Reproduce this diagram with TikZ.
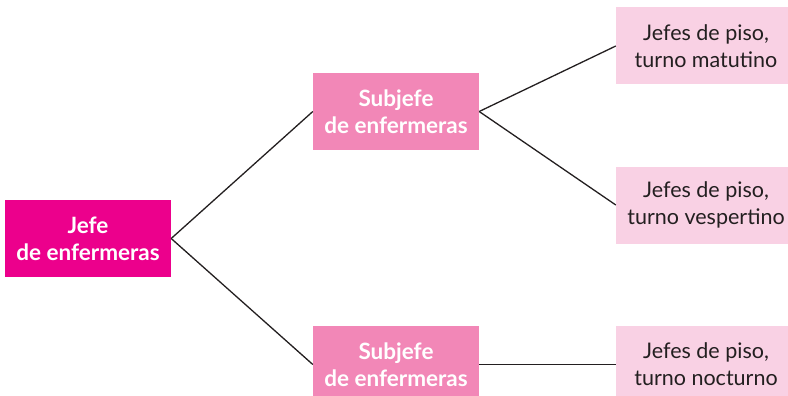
\documentclass[tikz,border=0pt]{standalone}
\usepackage{fontspec}
\setmainfont{Lato}
\definecolor{jefecol}{HTML}{EC008C}
\definecolor{subcol}{HTML}{F287B7}
\definecolor{pisocol}{HTML}{F9D1E4}
\definecolor{textcol}{HTML}{231F20}
\tikzset{
  caja/.style={minimum width=166pt, minimum height=77pt, inner sep=0pt, align=center, font=\fontsize{21.5}{27}\selectfont},
  jefe/.style={caja, fill=jefecol, text=white, font=\fontsize{22.5}{27}\selectfont\bfseries},
  subjefe/.style={caja, fill=subcol, text=white, font=\fontsize{22.5}{27}\selectfont\bfseries},
  piso/.style={caja, minimum width=180pt, fill=pisocol, text=textcol},
  rama/.style={draw=textcol, line width=1.3pt}
}
\begin{document}
\begin{tikzpicture}[x=1pt,y=-1pt]
\useasboundingbox (0,0) rectangle (788,396);

\node[jefe] (jefe) at (88,238.5) {Jefe\\de enfermeras};

\node[subjefe] (sub1) at (396,111.5) {Subjefe\\de enfermeras};
\node[subjefe] (sub2) at (396,364.5) {Subjefe\\de enfermeras};

\node[piso] (mat) at (706,46) {Jefes de piso,\\turno matutino};
\node[piso] (ves) at (706,205) {Jefes de piso,\\turno vespertino};
\node[piso] (noc) at (706,364.5) {Jefes de piso,\\turno nocturno};

\draw[rama] (jefe.east) -- (sub1.west);
\draw[rama] (jefe.east) -- (sub2.west);
\draw[rama] (sub1.east) -- (mat.west);
\draw[rama] (sub1.east) -- (ves.west);
\draw[rama] (sub2.east) -- (noc.west);

\end{tikzpicture}
\end{document}
